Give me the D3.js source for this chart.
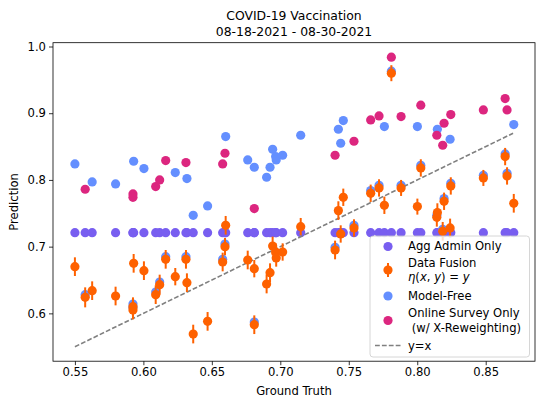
<!DOCTYPE html>
<html>
<head>
<meta charset="utf-8">
<script src="https://cdn.jsdelivr.net/npm/d3@7"></script>
<style>
  body { margin: 0; background: #fff; }
  text { font-family: "DejaVu Sans", sans-serif; }
</style>
</head>
<body>
<div id="chartDiv"></div>
<script>
// ground truth per state (x), and each method's prediction (y)
var groundTruth = [0.550, 0.5575, 0.5626, 0.5797, 0.5929, 0.5924, 0.5924, 0.6004, 0.609, 0.6119,
    0.6163, 0.6233, 0.6311, 0.6318, 0.6364, 0.6469, 0.6601, 0.6596, 0.6579, 0.6762,
    0.681, 0.681, 0.690, 0.6925, 0.6944, 0.6966, 0.6970, 0.7017, 0.7149, 0.740,
    0.7424, 0.7441, 0.746, 0.7538, 0.766, 0.7721, 0.776, 0.7882, 0.7811, 0.8001,
    0.8026, 0.8143, 0.8147, 0.8196, 0.8245, 0.8186, 0.824, 0.8483, 0.8642, 0.8656, 0.8705];

var aggAdmin = 0.721;

var fusion = [0.670, 0.624, 0.634, 0.626, 0.675, 0.610, 0.605, 0.664, 0.628, 0.643,
    0.681, 0.655, 0.681, 0.646, 0.569, 0.588, 0.732, 0.700, 0.677, 0.680,
    0.667, 0.583, 0.644, 0.661, 0.701, 0.692, 0.683, 0.692, 0.730, 0.695,
    0.754, 0.719, 0.774, 0.728, 0.780, 0.788, 0.762, 0.788, 0.960, 0.760,
    0.818, 0.744, 0.751, 0.768, 0.791, 0.723, 0.728, 0.803, 0.835, 0.806, 0.765];

var fusionErr = [0.014, 0.015, 0.014, 0.014, 0.014, 0.014, 0.014, 0.014, 0.014, 0.015,
    0.014, 0.013, 0.014, 0.014, 0.014, 0.014, 0.014, 0.013, 0.014, 0.014,
    0.013, 0.014, 0.014, 0.014, 0.014, 0.013, 0.013, 0.013, 0.013, 0.014,
    0.014, 0.013, 0.013, 0.013, 0.013, 0.013, 0.013, 0.012, 0.012, 0.012,
    0.013, 0.014, 0.014, 0.013, 0.013, 0.014, 0.014, 0.012, 0.013, 0.013, 0.014];

var modelFree = [0.824, 0.628, 0.797, 0.794, 0.828, 0.614, 0.609, 0.817, 0.632, 0.647,
    0.685, 0.811, 0.685, 0.802, 0.747, 0.761, 0.865, 0.704, 0.681, 0.830,
    0.819, 0.587, 0.804, 0.819, 0.846, 0.835, 0.830, 0.837, 0.867, 0.699,
    0.876, 0.855, 0.889, 0.732, 0.784, 0.792, 0.880, 0.792, 0.963, 0.880,
    0.822, 0.747, 0.876, 0.772, 0.795, 0.726, 0.861, 0.807, 0.839, 0.810, 0.883];

var survey = [null, 0.786, null, null, null, 0.779, 0.774, null, 0.790, 0.800,
    0.829, null, 0.826, null, null, null, null, 0.840, 0.824, null,
    null, 0.757, null, null, null, null, null, null, null, 0.837,
    null, null, null, 0.858, 0.890, 0.896, null, 0.895, 0.984, null,
    0.912, 0.867, null, 0.885, 0.898, 0.852, null, 0.905, 0.922, 0.905, null];

var xTicks = [0.55, 0.60, 0.65, 0.70, 0.75, 0.80, 0.85];
var yTicks = [0.6, 0.7, 0.8, 0.9, 1.0];
var titleLines = ["COVID-19 Vaccination", "08-18-2021 - 08-30-2021"];

var colAgg = "#785ef0", colFusion = "#fe6100", colFree = "#648fff", colSurvey = "#dc267f";

var width = 536, height = 402;
// plot box (window.top is reserved, so prefix)
var pLeft = 53, pRight = 535, pTop = 42.7, pBottom = 361.2;
var r = 4.6;

var svg = d3.select("#chartDiv").append("svg")
    .attr("width", width)
    .attr("height", height);

var x = d3.scaleLinear().domain([0.534, 0.886]).range([pLeft, pRight]);
var y = d3.scaleLinear().domain([0.5283, 1.0057]).range([pBottom, pTop]);

var states = groundTruth.map(function (g, i) {
    return {gt: g, fusion: fusion[i], err: fusionErr[i], free: modelFree[i], survey: survey[i]};
});

var plot = svg.append("g");

// agg admin only
plot.append("g").selectAll("circle")
    .data(states).enter().append("circle")
    .attr("cx", function (d) { return x(d.gt); })
    .attr("cy", y(aggAdmin))
    .attr("r", r)
    .attr("fill", colAgg);

// model free
plot.append("g").selectAll("circle")
    .data(states).enter().append("circle")
    .attr("cx", function (d) { return x(d.gt); })
    .attr("cy", function (d) { return y(d.free); })
    .attr("r", r)
    .attr("fill", colFree);

// online survey
plot.append("g").selectAll("circle")
    .data(states.filter(function (d) { return d.survey != null; })).enter().append("circle")
    .attr("cx", function (d) { return x(d.gt); })
    .attr("cy", function (d) { return y(d.survey); })
    .attr("r", r)
    .attr("fill", colSurvey);

// y = x
plot.append("line")
    .attr("x1", x(0.55)).attr("y1", y(0.55))
    .attr("x2", x(0.87)).attr("y2", y(0.87))
    .attr("stroke", "#808080")
    .attr("stroke-width", 1.6)
    .attr("stroke-dasharray", "4.8,2.1");

// data fusion with error bars
var fz = plot.append("g");
fz.selectAll("line")
    .data(states).enter().append("line")
    .attr("x1", function (d) { return x(d.gt); })
    .attr("x2", function (d) { return x(d.gt); })
    .attr("y1", function (d) { return y(d.fusion - d.err); })
    .attr("y2", function (d) { return y(d.fusion + d.err); })
    .attr("stroke", colFusion)
    .attr("stroke-width", 2);
fz.selectAll("circle")
    .data(states).enter().append("circle")
    .attr("cx", function (d) { return x(d.gt); })
    .attr("cy", function (d) { return y(d.fusion); })
    .attr("r", r)
    .attr("fill", colFusion);

// axes
var xAxis = svg.append("g")
    .attr("transform", "translate(0," + pBottom + ")")
    .call(d3.axisBottom(x).tickValues(xTicks).tickFormat(d3.format(".2f")).tickSize(4).tickPadding(3).tickSizeOuter(0));
var yAxis = svg.append("g")
    .attr("transform", "translate(" + pLeft + ",0)")
    .call(d3.axisLeft(y).tickValues(yTicks).tickFormat(d3.format(".1f")).tickSize(4).tickPadding(3).tickSizeOuter(0));
[xAxis, yAxis].forEach(function (a) {
    a.select(".domain").remove();
    a.selectAll("text").attr("font-size", "11.6px").attr("fill", "#000")
        .style("font-family", "DejaVu Sans, sans-serif");
    a.selectAll("line").attr("stroke", "#000").attr("stroke-width", 0.8);
});

// frame
svg.append("rect")
    .attr("x", pLeft).attr("y", pTop)
    .attr("width", pRight - pLeft).attr("height", pBottom - pTop)
    .attr("fill", "none").attr("stroke", "#000").attr("stroke-width", 0.8);

// titles and labels
var cx = (pLeft + pRight) / 2;
svg.append("text").attr("x", cx).attr("y", 20).attr("text-anchor", "middle")
    .attr("font-size", "12.4px").text(titleLines[0]);
svg.append("text").attr("x", cx).attr("y", 35.5).attr("text-anchor", "middle")
    .attr("font-size", "12.4px").text(titleLines[1]);
svg.append("text").attr("x", cx).attr("y", 395).attr("text-anchor", "middle")
    .attr("font-size", "11.6px").text("Ground Truth");
svg.append("text")
    .attr("transform", "translate(18," + ((pTop + pBottom) / 2) + ") rotate(-90)")
    .attr("text-anchor", "middle")
    .attr("font-size", "11.6px").text("Prediction");

// legend
var lg = svg.append("g");
lg.append("rect")
    .attr("x", 370).attr("y", 236)
    .attr("width", 159.5).attr("height", 121)
    .attr("rx", 3)
    .attr("fill", "#fff").attr("fill-opacity", 0.8)
    .attr("stroke", "#cccccc").attr("stroke-width", 0.8);

var mx = 388, tx = 408;
function legendText(t, yy) {
    return lg.append("text").attr("x", tx).attr("y", yy + 4).attr("font-size", "11.6px").text(t);
}
lg.append("circle").attr("cx", mx).attr("cy", 246.5).attr("r", r).attr("fill", colAgg);
legendText("Agg Admin Only", 246);

lg.append("line").attr("x1", mx).attr("x2", mx).attr("y1", 263).attr("y2", 277)
    .attr("stroke", colFusion).attr("stroke-width", 2);
lg.append("circle").attr("cx", mx).attr("cy", 270).attr("r", r).attr("fill", colFusion);
legendText("Data Fusion", 263.3);
var eta = lg.append("text").attr("x", tx).attr("y", 280.7).attr("font-size", "11.6px");
eta.append("tspan").attr("font-style", "italic").text("\u03b7");
eta.append("tspan").text("(");
eta.append("tspan").attr("font-style", "italic").text("x");
eta.append("tspan").text(", ");
eta.append("tspan").attr("font-style", "italic").text("y");
eta.append("tspan").text(") = ");
eta.append("tspan").attr("font-style", "italic").text("y");

lg.append("circle").attr("cx", mx).attr("cy", 296).attr("r", r).attr("fill", colFree);
legendText("Model-Free", 295.7);

lg.append("circle").attr("cx", mx).attr("cy", 320.5).attr("r", r).attr("fill", colSurvey);
legendText("Online Survey Only", 313.3);
legendText("\u00a0(w/ X-Reweighting)", 327.7);

lg.append("line").attr("x1", 375).attr("x2", 401).attr("y1", 345.5).attr("y2", 345.5)
    .attr("stroke", "#808080").attr("stroke-width", 1.6).attr("stroke-dasharray", "4.8,2.1");
legendText("y=x", 345.7);
</script>
</body>
</html>
